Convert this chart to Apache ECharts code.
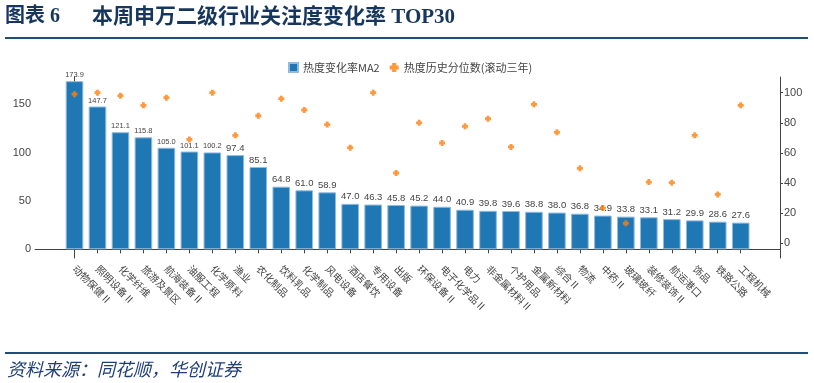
<!DOCTYPE html>
<html><head><meta charset="utf-8">
<script src="https://cdn.jsdelivr.net/npm/echarts@6/dist/echarts.min.js"></script>
<style>html,body{margin:0;padding:0;background:#fff}#c{width:814px;height:383px}</style>
</head><body><div id="c"></div>
<script>
const categories = ['动物保健Ⅱ','照明设备Ⅱ','化学纤维','旅游及景区','航海装备Ⅱ','油服工程','化学原料','渔业','农化制品','饮料乳品','化学制品','风电设备','酒店餐饮','专用设备','出版','环保设备Ⅱ','电子化学品Ⅱ','电力','非金属材料Ⅱ','个护用品','金属新材料','综合Ⅱ','物流','中药Ⅱ','玻璃玻纤','装修装饰Ⅱ','航运港口','饰品','铁路公路','工程机械'];
const heatChangeMA2 = [173.9,147.7,121.1,115.8,105.0,101.1,100.2,97.4,85.1,64.8,61.0,58.9,47.0,46.3,45.8,45.2,44.0,40.9,39.8,39.6,38.8,38.0,36.8,34.9,33.8,33.1,31.2,29.9,28.6,27.6];
const heatPercentile = [99,100,98,91.6,96.7,69,100,71.7,84.7,96,88.5,78.8,63.5,100,46.7,80,66.6,77.7,82.7,64,92.3,73.7,49.8,23.4,13.3,40.7,40.3,71.7,32.5,91.6];
const leftTicks = [0,50,100,150];
const rightTicks = [0,20,40,60,80,100];
const seriesNames = ['热度变化率MA2','热度历史分位数(滚动三年)'];

const idx = categories.map((c,i)=>i);
const plusPath = 'path://M1.6,0H4.4V1.6H6V4.4H4.4V6H1.6V4.4H0V1.6H1.6Z';
const chart = echarts.init(document.getElementById('c'));
chart.setOption({
  animation:false,
  textStyle:{fontFamily:'Liberation Sans, Noto Sans CJK SC'},
  grid:{left:35,right:34,top:77,bottom:125,outerBoundsMode:'none'},
  legend:{left:283,top:57,itemWidth:9,itemHeight:9,itemGap:10,
    textStyle:{fontSize:11,color:'#444',fontFamily:'Noto Sans CJK SC'},
    data:[{name:seriesNames[0],icon:'rect'},{name:seriesNames[1],icon:plusPath}]},
  xAxis:{type:'value',min:-1.72,max:30.71,splitLine:{show:false},
    axisLine:{show:true,lineStyle:{color:'#444',width:1}},
    axisTick:{show:true,length:4,customValues:idx,lineStyle:{color:'#444'}},
    axisLabel:{customValues:idx,rotate:-45,margin:9,fontSize:10,color:'#444',fontFamily:'Noto Sans CJK SC',
      formatter:v=>categories[Math.round(v)]}},
  yAxis:[
    {type:'value',min:-9,max:178.2,splitLine:{show:false},
     axisLine:{show:true,lineStyle:{color:'#444'}},
     axisTick:{show:true,length:4,customValues:leftTicks,lineStyle:{color:'#444'}},
     axisLabel:{customValues:leftTicks,fontSize:11,color:'#444',margin:4}},
    {type:'value',min:-9.7,max:110.4,position:'right',splitLine:{show:false},
     axisLine:{show:true,lineStyle:{color:'#444'}},
     axisTick:{show:true,length:3,customValues:rightTicks,lineStyle:{color:'#444'}},
     axisLabel:{customValues:rightTicks,fontSize:11,color:'#444',margin:4}}
  ],
  series:[
    {name:seriesNames[0],type:'bar',barWidth:17.6,
     data:heatChangeMA2.map((v,i)=>[i,v]),
     itemStyle:{color:'#1f77b4',borderColor:'#8fbbe0',borderWidth:1},
     label:{show:true,position:'top',distance:2,color:'#444',
       formatter:p=>{const v=p.value[1];return v>=100?'{s|'+v.toFixed(1)+'}':'{n|'+v.toFixed(1)+'}';},
       rich:{s:{fontSize:7.5,color:'#444',fontFamily:'Liberation Sans'},n:{fontSize:9.5,color:'#444',fontFamily:'Liberation Sans'}}}},
    {name:seriesNames[1],type:'scatter',yAxisIndex:1,symbol:plusPath,symbolSize:6,z:5,
     data:heatPercentile.map((v,i)=>[i,v]),itemStyle:{color:'#ff7f0e'}}
  ],
  graphic:[
    {type:'text',left:5,top:7,style:{text:'图表 6',fontSize:20,fontWeight:'bold',fill:'#17365d',fontFamily:'Liberation Serif, Noto Sans CJK SC'}},
    {type:'text',left:92,top:7,style:{text:'本周申万二级行业关注度变化率 TOP30',fontSize:21,fontWeight:'bold',fill:'#17365d',fontFamily:'Liberation Serif, Noto Sans CJK SC'}},
    {type:'rect',shape:{x:5,y:37,width:803,height:2},style:{fill:'#1f4e79'}},
    {type:'rect',shape:{x:5,y:352,width:803,height:2},style:{fill:'#1f4e79'}},
    {type:'text',left:7,top:360,style:{text:'资料来源：同花顺，华创证券',fontSize:18,fontStyle:'italic',fill:'#1f3f7a',fontFamily:'Noto Sans CJK SC'}}
  ]
});
</script></body></html>
